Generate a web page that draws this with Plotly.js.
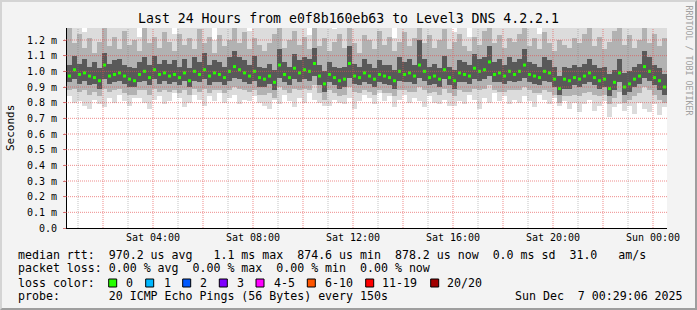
<!DOCTYPE html>
<html><head><meta charset="utf-8">
<script src="https://cdn.plot.ly/plotly-3.0.1.min.js"></script>
<style>
html,body{margin:0;padding:0;background:#f3f3f3;}
#wrap{position:relative;width:697px;height:310px;}
#chart{width:697px;height:310px;}
#frame{position:absolute;left:0;top:0;width:697px;height:310px;box-sizing:border-box;border-top:2px solid #d4d4d4;border-left:2px solid #d4d4d4;border-right:2px solid #9e9e9e;border-bottom:2px solid #9e9e9e;pointer-events:none;}
</style></head><body>
<div id="wrap"><div id="chart"></div><div id="frame"></div></div>
<script>
// ---- data (milliseconds; 12-minute samples from Sat 00:39:36) ----
const median = [
0.97,1.01,0.98,0.99,0.97,0.96,0.94,1.04,0.97,0.98,
0.99,0.97,0.95,0.94,0.98,1.00,0.96,1.01,0.98,0.99,
0.97,0.98,0.96,0.99,0.94,1.00,0.98,1.01,0.97,0.99,
0.98,0.96,1.00,1.03,1.01,0.99,0.97,1.00,0.96,0.95,
0.97,0.93,1.04,0.98,0.96,1.02,0.99,1.01,1.00,1.05,
0.97,0.92,0.98,0.96,0.94,0.95,1.05,0.97,0.96,0.99,
0.97,0.95,0.98,0.97,0.96,0.94,1.00,0.98,0.99,0.97,
1.04,1.00,0.96,0.97,0.95,1.01,0.96,0.94,0.99,0.98,
0.97,1.02,1.00,1.01,1.06,0.98,0.99,0.97,1.00,0.98,
1.00,1.04,0.98,0.97,0.96,1.00,0.99,0.95,0.89,0.95,
0.94,0.96,0.95,0.97,0.99,0.96,0.94,0.95,0.89,0.93,
0.99,0.90,0.92,0.95,0.97,1.03,1.00,0.96,0.94,0.90];
const smokeMin = [
0.84,0.80,0.81,0.78,0.76,0.82,0.79,0.77,0.83,0.80,
0.85,0.81,0.78,0.83,0.83,0.80,0.76,0.82,0.84,0.79,
0.81,0.86,0.83,0.77,0.80,0.85,0.82,0.78,0.84,0.81,
0.86,0.80,0.83,0.85,0.79,0.82,0.81,0.84,0.80,0.78,
0.76,0.82,0.79,0.85,0.81,0.77,0.83,0.80,0.86,0.82,
0.80,0.78,0.78,0.82,0.80,0.79,0.83,0.76,0.81,0.85,
0.83,0.79,0.86,0.81,0.84,0.77,0.82,0.85,0.80,0.83,
0.81,0.77,0.84,0.80,0.79,0.82,0.78,0.78,0.81,0.79,
0.85,0.82,0.76,0.83,0.80,0.86,0.81,0.84,0.79,0.82,
0.80,0.84,0.81,0.77,0.85,0.82,0.79,0.83,0.78,0.81,
0.76,0.80,0.74,0.79,0.82,0.75,0.78,0.81,0.71,0.77,
0.79,0.75,0.78,0.73,0.80,0.76,0.74,0.79,0.72,0.77];
const smokeLo = [
0.88,0.89,0.87,0.88,0.85,0.87,0.84,0.89,0.87,0.88,
0.89,0.86,0.85,0.85,0.88,0.88,0.85,0.89,0.87,0.88,
0.87,0.88,0.86,0.88,0.85,0.89,0.87,0.89,0.86,0.88,
0.88,0.86,0.88,0.90,0.89,0.88,0.87,0.88,0.85,0.85,
0.86,0.83,0.90,0.88,0.86,0.89,0.88,0.89,0.88,0.91,
0.86,0.82,0.88,0.86,0.84,0.85,0.90,0.87,0.86,0.88,
0.87,0.85,0.88,0.86,0.86,0.84,0.88,0.88,0.87,0.87,
0.90,0.88,0.86,0.87,0.85,0.89,0.86,0.84,0.88,0.87,
0.87,0.89,0.88,0.89,0.91,0.88,0.87,0.87,0.88,0.88,
0.88,0.90,0.88,0.86,0.86,0.88,0.87,0.85,0.80,0.84,
0.84,0.85,0.84,0.86,0.87,0.85,0.84,0.85,0.79,0.83,
0.87,0.80,0.82,0.84,0.86,0.90,0.88,0.85,0.82,0.80];
const smokeCoreLo = [
0.93,0.95,0.92,0.94,0.91,0.92,0.89,0.95,0.92,0.93,
0.94,0.92,0.90,0.90,0.93,0.94,0.91,0.95,0.92,0.94,
0.92,0.93,0.91,0.94,0.90,0.94,0.93,0.95,0.91,0.93,
0.93,0.91,0.94,0.96,0.95,0.93,0.92,0.94,0.90,0.90,
0.92,0.88,0.96,0.93,0.91,0.95,0.93,0.95,0.94,0.97,
0.91,0.87,0.93,0.91,0.89,0.90,0.96,0.92,0.91,0.93,
0.92,0.90,0.93,0.92,0.91,0.89,0.94,0.93,0.93,0.92,
0.96,0.94,0.91,0.92,0.90,0.95,0.91,0.89,0.93,0.93,
0.92,0.95,0.94,0.95,0.97,0.93,0.93,0.92,0.94,0.93,
0.94,0.96,0.93,0.92,0.91,0.94,0.93,0.90,0.85,0.89,
0.89,0.91,0.90,0.92,0.93,0.91,0.89,0.90,0.84,0.88,
0.93,0.85,0.87,0.90,0.92,0.96,0.94,0.91,0.88,0.85];
const smokeCoreHi = [
1.04,1.10,1.05,1.08,1.03,1.06,1.02,1.12,1.05,1.07,
1.08,1.04,1.03,1.02,1.06,1.09,1.04,1.10,1.05,1.07,
1.05,1.07,1.03,1.08,1.02,1.09,1.06,1.12,1.04,1.07,
1.06,1.03,1.09,1.13,1.09,1.07,1.04,1.10,1.03,1.02,
1.05,1.01,1.14,1.06,1.03,1.11,1.07,1.09,1.08,1.15,
1.04,1.00,1.06,1.03,1.02,1.03,1.16,1.05,1.03,1.08,
1.05,1.02,1.07,1.04,1.04,1.01,1.09,1.06,1.08,1.04,
1.20,1.08,1.03,1.05,1.02,1.10,1.03,1.01,1.07,1.06,
1.04,1.11,1.08,1.09,1.16,1.06,1.08,1.04,1.09,1.06,
1.08,1.14,1.06,1.05,1.03,1.09,1.07,1.03,0.97,1.03,
1.02,1.04,1.03,1.05,1.08,1.04,1.02,1.03,0.98,1.01,
1.08,0.99,1.00,1.03,1.05,1.13,1.09,1.04,1.02,0.98];
const smokeHi = [
1.30,1.18,1.24,1.15,1.21,1.12,1.19,1.30,1.16,1.22,
1.14,1.26,1.17,1.20,1.13,1.28,1.18,1.22,1.15,1.25,
1.19,1.13,1.24,1.17,1.21,1.14,1.27,1.18,1.22,1.12,
1.23,1.16,1.20,1.30,1.18,1.25,1.14,1.21,1.17,1.13,
1.18,1.24,1.30,1.15,1.20,1.26,1.17,1.22,1.14,1.30,
1.16,1.21,1.13,1.19,1.24,1.15,1.30,1.18,1.12,1.23,
1.20,1.14,1.26,1.17,1.22,1.13,1.19,1.25,1.16,1.21,
1.30,1.18,1.23,1.15,1.20,1.27,1.14,1.19,1.24,1.16,
1.13,1.22,1.17,1.26,1.30,1.18,1.23,1.15,1.21,1.19,
1.24,1.30,1.16,1.21,1.14,1.25,1.18,1.13,1.20,1.17,
1.15,1.21,1.18,1.24,1.30,1.16,1.22,1.14,1.19,1.26,
1.30,1.17,1.23,1.15,1.20,1.28,1.18,1.24,1.16,1.21];
const smokeMax = [
1.30,1.30,1.30,1.25,1.30,1.30,1.30,1.30,1.30,1.30,
1.30,1.30,1.30,1.30,1.22,1.30,1.30,1.30,1.30,1.30,
1.30,1.24,1.30,1.30,1.30,1.30,1.30,1.30,1.30,1.20,
1.30,1.30,1.30,1.30,1.30,1.30,1.26,1.30,1.30,1.30,
1.30,1.30,1.30,1.30,1.30,1.30,1.30,1.30,1.23,1.30,
1.30,1.30,1.30,1.27,1.30,1.30,1.30,1.30,1.30,1.30,
1.30,1.30,1.30,1.30,1.30,1.21,1.30,1.30,1.30,1.30,
1.30,1.30,1.30,1.30,1.30,1.30,1.30,1.25,1.30,1.30,
1.22,1.30,1.30,1.30,1.30,1.30,1.30,1.30,1.30,1.30,
1.30,1.30,1.30,1.30,1.24,1.30,1.30,1.30,1.30,1.30,
1.30,1.30,1.30,1.30,1.30,1.30,1.30,1.30,1.30,1.30,
1.30,1.30,1.30,1.30,1.30,1.30,1.30,1.30,1.30,1.30];

const yTickVals = [0,0.1,0.2,0.3,0.4,0.5,0.6,0.7,0.8,0.9,1.0,1.1,1.2];
const yTickText = ['0.0','0.1 m','0.2 m','0.3 m','0.4 m','0.5 m','0.6 m','0.7 m','0.8 m','0.9 m','1.0 m','1.1 m','1.2 m'];
const xTickHours = [2,4,6,8,10,12,14,16,18,20,22,24];
const xTickText = ['','Sat 04:00','','Sat 08:00','','Sat 12:00','','Sat 16:00','','Sat 20:00','','Sun 00:00'];
const minorHours = [1,3,5,7,9,11,13,15,17,19,21,23];
const lossLabels = ['0','1','2','3','4-5','6-10','11-19','20/20'];
const lossColors = ['#26ff00','#00b8ff','#0059ff','#7f00ff','#ff00ff','#ff5500','#ff0000','#a10000'];

const titleText = 'Last 24 Hours from e0f8b160eb63 to Level3 DNS 4.2.2.1';
const row1 = 'median rtt:  970.2 us avg   1.1 ms max  874.6 us min  878.2 us now  0.0 ms sd  31.0   am/s';
const row2 = 'packet loss: 0.00 % avg  0.00 % max  0.00 % min  0.00 % now';
const row3 = 'loss color:';
const row4a = 'probe:       20 ICMP Echo Pings (56 Bytes) every 150s';
const row4b = 'Sun Dec  7 00:29:06 2025';

// ---- layout helpers ----
const DAY0 = Date.UTC(2025,11,6,0,0,0);
const H = 3600000;
const T0 = Date.UTC(2025,11,6,0,33,36);
const STEP = 720000;
const times = median.map((_,i)=> T0 + STEP/2 + i*STEP);
const L=67, R=667, TOP=28, BOT=228;
const px = p => (p-L)/(R-L);
const py = p => (BOT-p)/(BOT-TOP);
const nb = s => s.replace(/ /g,'\u00a0');
const MONO = 'DejaVu Sans Mono, monospace';

function band(lo, hi, color){
  return {type:'bar', x:times, base:lo, y:hi.map((v,i)=>v-lo[i]), width:STEP,
    marker:{color:color, line:{width:0}}, hoverinfo:'skip', showlegend:false};
}
const traces = [
  band(smokeMin, smokeMax, '#dcdcdc'),
  band(smokeLo, smokeHi, '#b2b2b2'),
  band(smokeCoreLo, smokeCoreHi, '#595959'),
  {type:'scatter', mode:'markers', x:times, y:median,
   marker:{symbol:'square', size:3, color:'#26ff00', line:{width:0}}, hoverinfo:'skip', showlegend:false},
  {type:'scatter', mode:'markers', x:[T0, T0+(670-L)*144000], y:[(BOT-24)/156.67, 0],
   marker:{symbol:['triangle-up','triangle-right'], size:6, color:'#9a1a1a'}, cliponaxis:false, hoverinfo:'skip', showlegend:false}
];

const RED = 'rgba(230,80,80,0.65)';
const GRAY = 'rgba(120,120,120,0.45)';
const shapes = [];
yTickVals.slice(1).forEach(v=>shapes.push({type:'line', xref:'paper', yref:'y', x0:-0.005, x1:1, y0:v, y1:v,
  line:{color:RED, width:1, dash:'1px,1px'}, layer:'above'}));
minorHours.forEach(h=>shapes.push({type:'line', xref:'x', yref:'paper', x0:DAY0+h*H, x1:DAY0+h*H, y0:0, y1:1,
  line:{color:GRAY, width:1, dash:'1px,1px'}, layer:'above'}));
xTickHours.forEach(h=>shapes.push({type:'line', xref:'x', yref:'paper', x0:DAY0+h*H, x1:DAY0+h*H, y0:0, y1:1,
  line:{color:RED, width:1, dash:'1px,1px'}, layer:'above'}));
const boxX = [108.7,145.7,182.7,219.3,256,307.3,365.7,430.7];
const textX = [124,161.7,198.3,235,271.7,323.3,380,445];
lossColors.forEach((c,i)=>shapes.push({type:'rect', xref:'paper', yref:'paper',
  x0:px(boxX[i]), x1:px(boxX[i]+8), y0:py(287), y1:py(279), fillcolor:c, line:{color:'#000', width:1}, layer:'above'}));

const f = {family:MONO, size:11.6, color:'#000'};
const ann = [];
const addText = (t,x,y,opts={}) => ann.push(Object.assign({xref:'paper', yref:'paper', x:px(x), y:py(y), xanchor:'left', yanchor:'middle',
  text:nb(t), showarrow:false, font:f}, opts));
addText(row1,16,254.5);
addText(row2,16,268.3);
addText(row3,16,282.5);
addText(row4a,16,296.3);
addText(row4b,513,296.3);
lossLabels.forEach((t,i)=>addText(t,textX[i],282.5));
ann.push({xref:'paper', yref:'paper', x:px(10), y:0.5, xanchor:'center', yanchor:'middle', textangle:-90,
  text:'Seconds', showarrow:false, font:{family:MONO, size:11, color:'#000'}});
ann.push({xref:'paper', yref:'paper', x:px(688.5), y:py(60), xanchor:'center', yanchor:'middle', textangle:90,
  text:nb('RRDTOOL / TOBI OETIKER'), showarrow:false, font:{family:MONO, size:8.3, color:'#a0a0a0'}});

const layout = {
  width:697, height:310,
  margin:{l:L, r:697-R, t:TOP, b:310-BOT, pad:0},
  paper_bgcolor:'#f3f3f3', plot_bgcolor:'#ffffff',
  barmode:'overlay', bargap:0,
  title:{text:titleText, x:0.5, xref:'container', xanchor:'center', y:1-18/310, yref:'container', yanchor:'middle',
    font:{family:MONO, size:13.2, color:'#000'}},
  xaxis:{type:'date', range:[T0, T0+24*H], tickmode:'array', tickvals:xTickHours.map(h=>DAY0+h*H), ticktext:xTickText,
    showgrid:false, zeroline:false, showline:true, linecolor:'#000', linewidth:1, ticks:'',
    tickfont:{family:MONO, size:10, color:'#000'}, fixedrange:true},
  yaxis:{range:[0,(BOT-TOP)/156.67], tickmode:'array', tickvals:yTickVals, ticktext:yTickText,
    showgrid:false, zeroline:false, showline:true, linecolor:'#000', linewidth:1,
    ticks:'outside', ticklen:3, tickcolor:'rgba(200,90,90,0.8)', ticklabelstandoff:4,
    tickfont:{family:MONO, size:10, color:'#000'}, fixedrange:true},
  shapes:shapes, annotations:ann, showlegend:false
};
Plotly.newPlot('chart', traces, layout, {staticPlot:true, displayModeBar:false});
</script></body></html>
